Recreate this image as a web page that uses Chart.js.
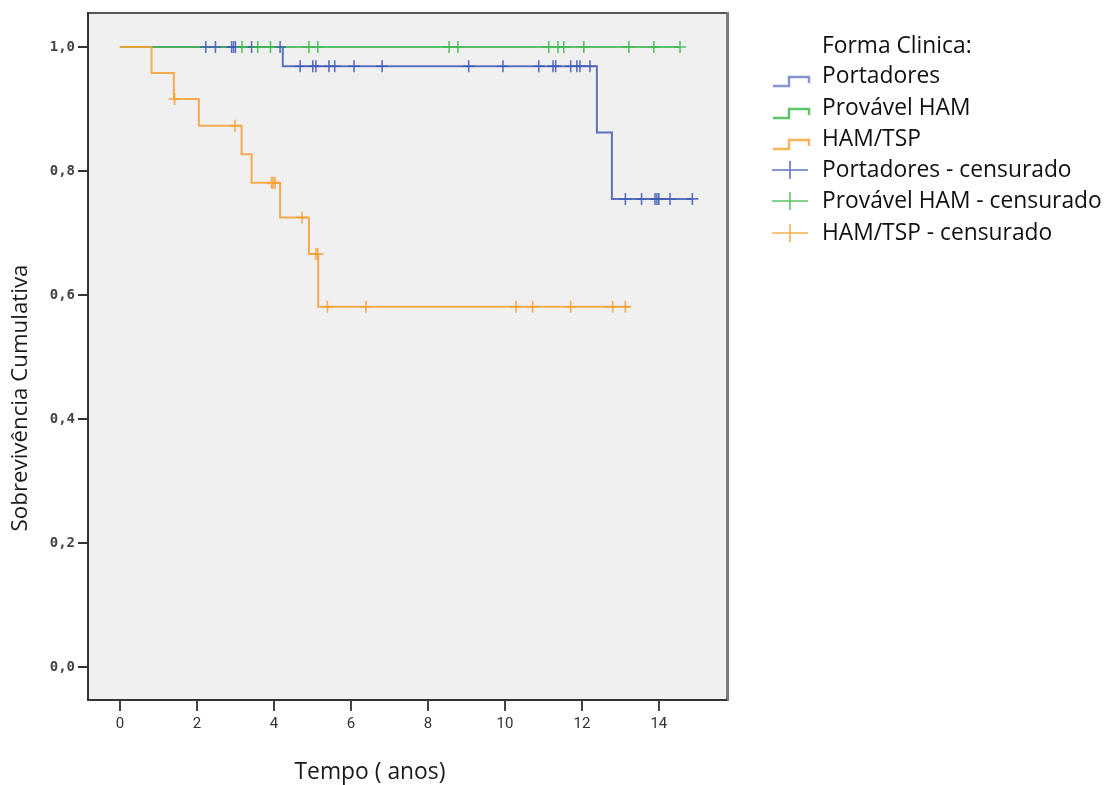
<!DOCTYPE html>
<html><head><meta charset="utf-8">
<script src="https://cdn.jsdelivr.net/npm/chart.js@4.4.1/dist/chart.umd.min.js"></script>
<style>html,body{margin:0;padding:0;background:#fff;overflow:hidden}#wrap{position:relative;width:1107px;height:785px}</style>
</head><body><div id="wrap"><canvas id="c" width="1107" height="785"></canvas></div>
<script>
// ---- data ----
const xTicks = [0, 2, 4, 6, 8, 10, 12, 14];
const yTicks = [0, 0.2, 0.4, 0.6, 0.8, 1.0];
const legendTitle = 'Forma Clinica:';
const seriesNames = ['Portadores', 'Provável HAM', 'HAM/TSP'];
const censSuffix = ' - censurado';
// Kaplan-Meier step points: event times and survival after each step
const portTimes = [0, 4.23, 12.39, 12.78, 14.88];
const portSurv  = [1.0, 0.969, 0.862, 0.755, 0.755];
const portCens  = [2.23, 2.48, 2.90, 2.95, 3.00, 3.42, 4.16, 4.68, 5.01, 5.09, 5.43, 5.58, 6.08, 6.81, 9.06, 9.95, 10.88, 11.25, 11.32, 11.71, 11.87, 11.95, 12.21, 13.13, 13.55, 13.90, 13.95, 14.00, 14.29, 14.87];
const provTimes = [0, 14.55];
const provSurv  = [1.0, 1.0];
const provCens  = [3.17, 3.58, 3.91, 4.91, 5.14, 8.55, 8.78, 11.14, 11.38, 11.53, 12.05, 13.22, 13.87, 14.55];
const hamTimes  = [0, 0.82, 1.40, 2.05, 3.16, 3.42, 4.16, 4.91, 5.15, 13.25];
const hamSurv   = [1.0, 0.958, 0.916, 0.873, 0.827, 0.781, 0.725, 0.666, 0.581, 0.581];
const hamCens   = [1.42, 2.99, 3.94, 3.98, 4.03, 4.73, 5.09, 5.14, 5.39, 6.39, 10.29, 10.72, 11.71, 12.80, 13.13];

// ---- styles ----
const colors = ['rgba(66,92,182,0.85)', 'rgba(64,186,80,0.85)', 'rgba(246,160,52,0.85)'];
const legendColors = ['rgba(66,92,182,0.65)', 'rgba(64,186,80,0.85)', 'rgba(246,160,52,0.8)'];

function survAt(times, surv, t) {
  let s = surv[0];
  for (let i = 0; i < times.length; i++) if (times[i] <= t) s = surv[i];
  return s;
}
function stepData(times, surv) { return times.map((t, i) => ({x: t, y: surv[i]})); }
function censData(times, surv, cens) { return cens.map(t => ({x: t, y: survAt(times, surv, t)})); }

const groups = [
  [portTimes, portSurv, portCens],
  [provTimes, provSurv, provCens],
  [hamTimes, hamSurv, hamCens]
];
const datasets = [];
groups.forEach((g, i) => {
  datasets.push({label: seriesNames[i], data: stepData(g[0], g[1]), showLine: true, stepped: 'before',
    borderColor: colors[i], borderWidth: 2, pointRadius: 0, fill: false, order: 10 - i});
});
groups.forEach((g, i) => {
  datasets.push({label: seriesNames[i] + censSuffix, data: censData(g[0], g[1], g[2]), showLine: false,
    pointStyle: 'cross', pointRadius: 6, borderColor: colors[i], borderWidth: 1.6, order: 5 - i});
});

function fitFont(ctx, text, family, target, weight) {
  ctx.font = (weight || '') + ' 100px ' + family;
  const w = ctx.measureText(text).width;
  return 100 * target / w;
}

const deco = {
  id: 'deco',
  beforeDraw(chart) {
    const {ctx, chartArea: a} = chart;
    ctx.save();
    ctx.fillStyle = '#f0f0f0';
    ctx.fillRect(a.left, a.top, a.right - a.left, a.bottom - a.top);
    ctx.restore();
  },
  afterDraw(chart) {
    const {ctx, chartArea: a} = chart;
    ctx.save();
    // frame
    ctx.lineWidth = 2;
    ctx.strokeStyle = '#555';
    ctx.beginPath(); ctx.moveTo(a.left, a.top); ctx.lineTo(a.right, a.top); ctx.stroke();
    ctx.strokeStyle = '#7a7a7a'; ctx.lineWidth = 3;
    ctx.beginPath(); ctx.moveTo(a.right + 0.5, a.top - 1); ctx.lineTo(a.right + 0.5, a.bottom + 1); ctx.stroke();
    ctx.strokeStyle = '#333'; ctx.lineWidth = 2;
    ctx.beginPath(); ctx.moveTo(a.left, a.top - 1); ctx.lineTo(a.left, a.bottom); ctx.lineTo(a.right, a.bottom); ctx.stroke();

    // axis titles
    const fam = '"Open Sans", "Noto Sans", sans-serif';
    ctx.fillStyle = '#1a1a1a';
    ctx.textAlign = 'center'; ctx.textBaseline = 'middle';
    const xt = 'Tempo ( anos)';
    ctx.font = fitFont(ctx, xt, fam, 151) + 'px ' + fam;
    ctx.fillText(xt, 370, 772);
    const yt = 'Sobrevivência Cumulativa';
    const ys = fitFont(ctx, yt, fam, 267);
    ctx.save();
    ctx.translate(21, 398); ctx.rotate(-Math.PI / 2);
    ctx.font = ys + 'px ' + fam;
    ctx.fillText(yt, 0, 0);
    ctx.restore();

    // legend
    ctx.textAlign = 'left';
    const longest = seriesNames[1] + censSuffix;
    const ls = fitFont(ctx, longest, fam, 280);
    ctx.font = ls + 'px ' + fam;
    ctx.fillStyle = '#111';
    const tx = 822;
    ctx.fillText(legendTitle, tx, 46);
    const rows = [76, 108, 139, 170, 201, 233];
    for (let i = 0; i < 3; i++) {
      const y = rows[i];
      ctx.fillStyle = '#111';
      ctx.fillText(seriesNames[i], tx, y);
      ctx.strokeStyle = legendColors[i]; ctx.lineWidth = 2.5;
      ctx.beginPath();
      ctx.moveTo(773, y + 10); ctx.lineTo(789, y + 10); ctx.lineTo(789, y + 1);
      ctx.lineTo(809, y + 1); ctx.lineTo(809, y + 7);
      ctx.stroke();
    }
    for (let i = 0; i < 3; i++) {
      const y = rows[3 + i];
      ctx.fillStyle = '#111';
      ctx.fillText(seriesNames[i] + censSuffix, tx, y);
      ctx.strokeStyle = colors[i]; ctx.lineWidth = 1.6;
      ctx.beginPath();
      ctx.moveTo(772, y); ctx.lineTo(808, y);
      ctx.moveTo(790, y - 9); ctx.lineTo(790, y + 9);
      ctx.stroke();
    }
    ctx.restore();
  }
};

new Chart(document.getElementById('c'), {
  type: 'scatter',
  data: {datasets},
  options: {
    responsive: false, animation: false, devicePixelRatio: 1,
    layout: {padding: {left: 0, top: 13, right: 380, bottom: 0}},
    plugins: {legend: {display: false}, tooltip: {enabled: false}},
    scales: {
      x: {
        type: 'linear', min: -0.83, max: 15.77,
        afterBuildTicks: s => { s.ticks = xTicks.map(v => ({value: v})); },
        afterFit: s => { s.height = 85; },
        border: {display: false},
        grid: {drawOnChartArea: false, drawTicks: true, tickLength: 11, color: '#444', lineWidth: 2},
        ticks: {padding: 4, color: '#333', font: {family: 'Roboto, sans-serif', size: 15}, maxRotation: 0,
          callback: v => String(v)}
      },
      y: {
        type: 'linear', min: -0.0532, max: 1.0548,
        afterBuildTicks: s => { s.ticks = yTicks.map(v => ({value: v})); },
        afterFit: s => { s.width = 88; },
        border: {display: false},
        grid: {drawOnChartArea: false, drawTicks: true, tickLength: 10, color: '#333', lineWidth: 2},
        ticks: {padding: 3, color: '#444', font: {family: '"DejaVu Sans Mono", monospace', size: 14, weight: 'bold'},
          callback: v => v.toFixed(1).replace('.', ',')}
      }
    }
  },
  plugins: [deco]
});
</script></body></html>
